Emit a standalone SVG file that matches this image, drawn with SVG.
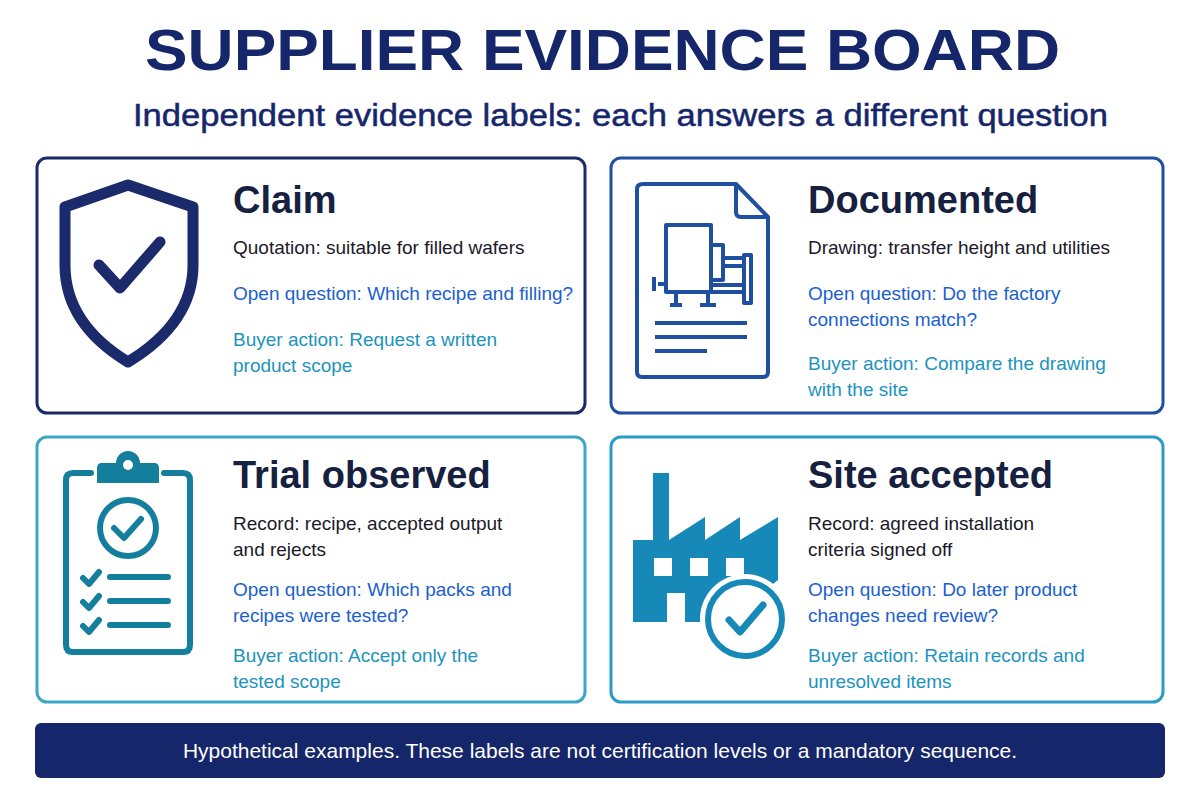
<svg xmlns="http://www.w3.org/2000/svg" width="1200" height="800" viewBox="0 0 1200 800">
<style>
text{font-family:"Liberation Sans",Arial,sans-serif}
.t{font-size:58px;font-weight:900;fill:#16266a}
.s{font-size:31px;fill:#16266a;stroke:#16266a;stroke-width:0.5}
.h{font-size:38px;font-weight:bold;fill:#16203f}
.b{font-size:19px;fill:#1a1a2a}
.q{font-size:19px;fill:#1b5fd0}
.a{font-size:19px;fill:#1c93bd}
.box{fill:#fff;stroke-width:3}
</style>
<rect width="1200" height="800" fill="#fff"/>
<text class="t" x="145" y="70" textLength="915" lengthAdjust="spacingAndGlyphs">SUPPLIER EVIDENCE BOARD</text>
<text class="s" x="133" y="126" textLength="975" lengthAdjust="spacingAndGlyphs">Independent evidence labels: each answers a different question</text>

<g id="claim">
<rect class="box" x="37" y="158" width="548" height="255" rx="10" stroke="#1b2a6b"/>
<path d="M128 185 L65 207 V265 C65 315 100 345 128 362 C156 345 193 315 193 265 V207 Z" fill="none" stroke="#1b2a6b" stroke-width="11" stroke-linejoin="round"/>
<path d="M99 265 L120 288 L160 242" fill="none" stroke="#1b2a6b" stroke-width="11" stroke-linecap="round" stroke-linejoin="round"/>
<text class="h" x="233" y="213">Claim</text>
<text class="b" x="233" y="254">Quotation: suitable for filled wafers</text>
<text class="q" x="233" y="300">Open question: Which recipe and filling?</text>
<text class="a" x="233" y="346">Buyer action: Request a written</text>
<text class="a" x="233" y="372">product scope</text>
</g>

<g id="documented">
<rect class="box" x="611" y="158" width="552" height="255" rx="10" stroke="#1f4fa0"/>
<g fill="none" stroke="#1f4fa0" stroke-width="4" stroke-linejoin="round">
<path d="M643 184 H736 L768 217 V372 Q768 377 763 377 H642 Q637 377 637 372 V189 Q637 184 643 184 Z"/>
<path d="M736 184 V212 Q736 217 741 217 H768"/>
<rect x="666" y="225" width="45" height="67"/>
<rect x="711" y="245" width="12" height="35"/>
<path d="M723 258 H745 M723 266 H745 M711 285 H745 M711 292 H745"/>
<rect x="744" y="255" width="7" height="48"/>
<path d="M666 284 H658 M654 277 V291 M676 292 V305 M670 305 H682 M708 292 V305 M700 305 H716"/>
<path d="M655 323 H747 M655 337 H747 M655 351 H707"/>
</g>
<text class="h" x="808" y="213">Documented</text>
<text class="b" x="808" y="254">Drawing: transfer height and utilities</text>
<text class="q" x="808" y="300">Open question: Do the factory</text>
<text class="q" x="808" y="326">connections match?</text>
<text class="a" x="808" y="370">Buyer action: Compare the drawing</text>
<text class="a" x="808" y="396">with the site</text>
</g>

<g id="trial">
<rect class="box" x="37" y="437" width="548" height="265" rx="10" stroke="#3aa7c4"/>
<g fill="none" stroke="#137f9c" stroke-width="6" stroke-linecap="round" stroke-linejoin="round">
<path d="M91 473 H73 Q66 473 66 480 V645 Q66 652 73 652 H183 Q190 652 190 645 V480 Q190 473 183 473 H164"/>
<circle cx="128" cy="528" r="28"/>
<path d="M114 528 L124 538 L141 519"/>
<path d="M83 578 L89 584 L99 572 M83 602 L89 608 L99 596 M83 626 L89 632 L99 620"/>
<path d="M110 577 H168 M110 601 H168 M110 625 H168"/>
</g>
<path d="M97 483 V468 Q97 463 102 463 H116 A12 12 0 0 1 140 463 H154 Q159 463 159 468 V483 Z" fill="#137f9c"/>
<circle cx="128" cy="465" r="5" fill="#fff"/>
<text class="h" x="233" y="488">Trial observed</text>
<text class="b" x="233" y="530">Record: recipe, accepted output</text>
<text class="b" x="233" y="556">and rejects</text>
<text class="q" x="233" y="596">Open question: Which packs and</text>
<text class="q" x="233" y="622">recipes were tested?</text>
<text class="a" x="233" y="662">Buyer action: Accept only the</text>
<text class="a" x="233" y="688">tested scope</text>
</g>

<g id="site">
<rect class="box" x="611" y="437" width="552" height="265" rx="10" stroke="#2a9cc8"/>
<path d="M653 473 H669 V540 L705 517 V540 L740 517 V540 L778 517 V580 L740 610 V622 H633 V540 H653 Z" fill="#1789b8"/>
<rect x="654" y="558" width="18" height="18" fill="#fff"/>
<rect x="690" y="558" width="18" height="18" fill="#fff"/>
<rect x="726" y="558" width="18" height="18" fill="#fff"/>
<rect x="667" y="593" width="18" height="29" fill="#fff"/>
<circle cx="745" cy="619" r="45" fill="#fff"/>
<circle cx="745" cy="619" r="37" fill="none" stroke="#1789b8" stroke-width="6"/>
<path d="M729 620 L740 632 L763 605" fill="none" stroke="#1789b8" stroke-width="7" stroke-linecap="round" stroke-linejoin="round"/>
<text class="h" x="808" y="488">Site accepted</text>
<text class="b" x="808" y="530">Record: agreed installation</text>
<text class="b" x="808" y="556">criteria signed off</text>
<text class="q" x="808" y="596">Open question: Do later product</text>
<text class="q" x="808" y="622">changes need review?</text>
<text class="a" x="808" y="662">Buyer action: Retain records and</text>
<text class="a" x="808" y="688">unresolved items</text>
</g>

<g id="footer">
<rect x="35" y="723" width="1130" height="55" rx="6" fill="#16266a"/>
<text x="600" y="758" text-anchor="middle" fill="#fff" style="font-size:21px">Hypothetical examples. These labels are not certification levels or a mandatory sequence.</text>
</g>
<g id="connectors"/>
</svg>
